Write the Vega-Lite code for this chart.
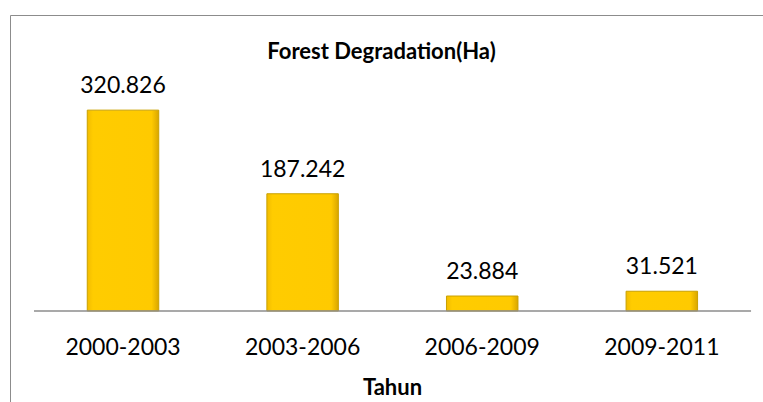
{
  "$schema": "https://vega.github.io/schema/vega-lite/v6.json",
  "autosize": {"type": "none"},
  "padding": {"left": 10, "top": 15, "right": -2, "bottom": -2},
  "width": 755,
  "height": 389,
  "background": "white",
  "title": {
    "text": "Forest Degradation(Ha)",
    "font": "Lato",
    "fontSize": 22,
    "fontWeight": "bold",
    "color": "#000000",
    "anchor": "middle",
    "frame": "group",
    "baseline": "alphabetic",
    "offset": -66,
    "dx": -6
  },
  "data": {
    "values": [
      {"Tahun": "2000-2003", "Ha": 320.826},
      {"Tahun": "2003-2006", "Ha": 187.242},
      {"Tahun": "2006-2009", "Ha": 23.884},
      {"Tahun": "2009-2011", "Ha": 31.521}
    ]
  },
  "encoding": {
    "x": {
      "field": "Tahun",
      "type": "nominal",
      "sort": null,
      "scale": {"paddingInner": 0.602, "paddingOuter": 0.4028, "align": 0.534},
      "axis": {
        "orient": "bottom",
        "offset": -93,
        "domain": false,
        "ticks": false,
        "tickSize": 0,
        "labelAngle": 0,
        "labelFont": "Lato",
        "labelFontSize": 23,
        "labelColor": "#000000",
        "labelBaseline": "alphabetic",
        "labelPadding": 43,
        "title": "Tahun",
        "titleFont": "Lato",
        "titleFontSize": 22,
        "titleFontWeight": "bold",
        "titleColor": "#000000",
        "titleBaseline": "alphabetic",
        "titleY": 83,
        "titleX": 382
      }
    },
    "y": {
      "field": "Ha",
      "type": "quantitative",
      "scale": {"domain": [-148.6, 472.8], "nice": false, "zero": false},
      "axis": null
    }
  },
  "layer": [
    {
      "mark": {
        "type": "bar",
        "fill": {
          "gradient": "linear",
          "x1": 0, "y1": 0, "x2": 1, "y2": 0,
          "stops": [
            {"offset": 0, "color": "#F2BC00"},
            {"offset": 0.08, "color": "#FFCC00"},
            {"offset": 0.9, "color": "#FFCA00"},
            {"offset": 1, "color": "#D9A600"}
          ]
        },
        "stroke": "#C9A000",
        "strokeWidth": 1
      },
      "encoding": {"y2": {"datum": 0}}
    },
    {
      "mark": {"type": "text", "font": "Lato", "fontSize": 23, "color": "#000000", "baseline": "alphabetic", "dy": -17},
      "encoding": {"text": {"field": "Ha", "type": "quantitative", "format": ".3f"}}
    },
    {
      "data": {"values": [{"from": "2000-2003", "to": "2009-2011", "base": 0}]},
      "mark": {"type": "rule", "stroke": "#8c8c8c", "strokeWidth": 1.5},
      "encoding": {
        "x": {"datum": "2000-2003", "bandPosition": -0.745},
        "x2": {"datum": "2009-2011", "bandPosition": 1.748},
        "y": {"field": "base", "type": "quantitative"},
        "text": null
      }
    }
  ],
  "config": {
    "view": {"stroke": "#8c8c8c", "strokeWidth": 1}
  }
}
